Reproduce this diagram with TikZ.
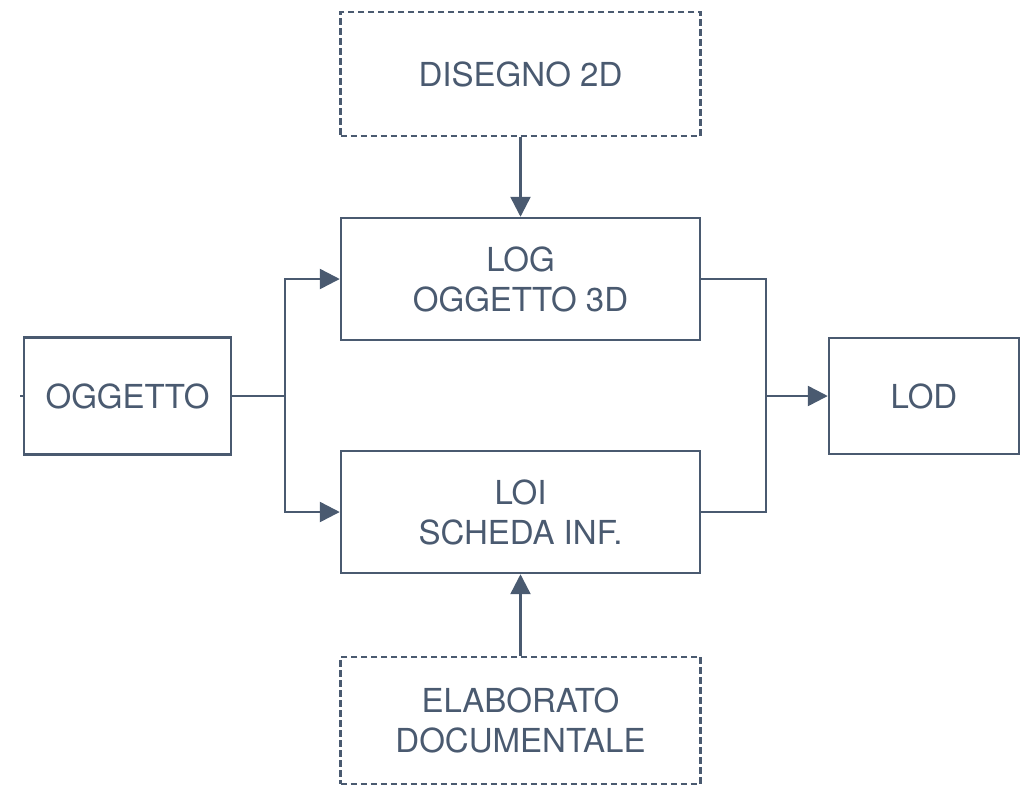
\documentclass[tikz,border=0pt]{standalone}
\usepackage{fontspec}
\setmainfont{TeX Gyre Heros}
\usepackage{tikz}
\usetikzlibrary{positioning,arrows.meta}
\definecolor{slate}{HTML}{4A5A70}

\tikzset{
  block/.style={draw=slate, line width=1.4pt, text=slate, align=center,
    inner sep=0pt, font=\fontsize{18.8}{22.8}\selectfont},
  source/.style={block, line width=1.3pt, dash pattern=on 0.13cm off 0.07cm},
  link/.style={draw=slate, line width=1.4pt},
  arrow/.style={link, -{Triangle[length=0.4cm,width=0.4cm]}}
}

\begin{document}
\begin{tikzpicture}
      \useasboundingbox (0,0) rectangle (20.52,-15.72);
      % Define nodes
      \node[block, minimum width=4.14cm, minimum height=2.34cm] (oggetto) at (2.55,-7.92) {OGGETTO};
      \node[block, minimum width=7.18cm, minimum height=2.44cm] (log) at (10.41,-5.58) {LOG\\OGGETTO 3D};
      \node[block, minimum width=7.18cm, minimum height=2.44cm] (loi) at (10.41,-10.24) {LOI\\SCHEDA INF.};
      \node[source, minimum width=7.2cm, minimum height=2.48cm] (disegno) at (10.41,-1.48) {DISEGNO 2D};
      \node[source, minimum width=7.2cm, minimum height=2.54cm] (elaborato) at (10.41,-14.41) {ELABORATO\\DOCUMENTALE};
      \node[block, minimum width=3.8cm, minimum height=2.32cm] (lod) at (18.48,-7.92) {LOD};
      \coordinate (split) at (5.7,-7.92);
      \coordinate (join) at (15.32,-7.92);
      \coordinate[left=0.06cm of oggetto.west] (stub);
      % Connect the nodes
      \draw[link] (oggetto.west) -- (stub);
      \draw[link] (oggetto.east) -- (split);
      \draw[arrow] (split) |- (log.west);
      \draw[arrow] (split) |- (loi.west);
      \draw[link] (log.east) -| (join);
      \draw[link] (loi.east) -| (join);
      \draw[arrow] (join) -- (lod.west);
      \draw[arrow] (disegno) -- (log);
      \draw[arrow] (elaborato) -- (loi);
    \end{tikzpicture}
\end{document}
